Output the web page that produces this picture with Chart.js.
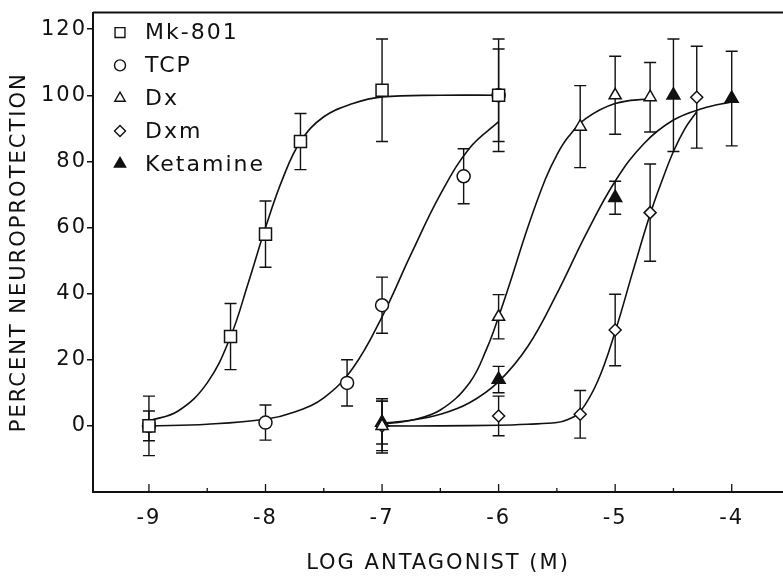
<!DOCTYPE html>
<html>
<head>
<meta charset="utf-8">
<script src="https://cdn.jsdelivr.net/npm/chart.js@4.4.0/dist/chart.umd.min.js"></script>
<style>
  html, body { margin: 0; padding: 0; background: #fff; overflow: hidden; }
</style>
</head>
<body>
<canvas id="chart" width="783" height="577"></canvas>
<script>
// measured points (log M, % neuroprotection, +/- error)
const mkX = [-9, -8.3, -8, -7.7, -7, -6];
const mkY = [0, 27, 58, 86, 101.5, 100];
const mkErr = [9, 10, 10, 8.5, 15.5, 17];

const tcpX = [-9, -8, -7.3, -7, -6.3, -6];
const tcpY = [0, 1, 13, 36.5, 75.5, 100];
const tcpErr = [4.5, 5.3, 7, 8.5, 8.3, 14];

const dxX = [-7, -6, -5.3, -5, -4.7];
const dxY = [0, 33, 90.5, 100, 99.4];
const dxErr = [8.2, 6.7, 12.4, 11.8, 10.5];

const dxmX = [-7, -6, -5.3, -5, -4.7, -4.3];
const dxmY = [0, 3, 3.5, 29, 64.5, 99.4];
const dxmErr = [7.5, 6, 7.2, 10.8, 14.7, 15.4];

const ketX = [-7, -6, -5, -4.5, -4];
const ketY = [1, 14, 69, 100, 99];
const ketErr = [6.5, 4, 5, 17, 14.3];

// fitted curves
const mkCurveX = [-9, -8.75, -8.5, -8.3, -8.15, -8, -7.85, -7.7, -7.5, -7.25, -7, -6.5, -6];
const mkCurveY = [1.5, 4.5, 13, 27, 43, 60, 75, 86, 93.5, 97.5, 99.5, 100, 100];

const tcpCurveX = [-9, -8.5, -8, -7.75, -7.5, -7.25, -7, -6.75, -6.5, -6.25, -6];
const tcpCurveY = [0, 0.5, 2, 4.2, 8.5, 17.5, 33, 52, 70, 84, 92];

const dxCurveX = [-7, -6.75, -6.5, -6.25, -6.1, -6, -5.9, -5.75, -5.6, -5.5, -5.4, -5.25, -5, -4.7];
const dxCurveY = [0.5, 1.7, 4.8, 13, 23.5, 33, 43.5, 60, 74.5, 82, 87.5, 93, 97.5, 99];

const dxmCurveX = [-7, -6.5, -6, -5.75, -5.5, -5.4, -5.3, -5.15, -5, -4.85, -4.7, -4.6, -4.5, -4.4, -4.3];
const dxmCurveY = [0, 0, 0.2, 0.5, 1, 2, 4.3, 13.5, 28.5, 46.5, 64, 74, 83, 90, 95];

const ketCurveX = [-7, -6.75, -6.5, -6.25, -6, -5.75, -5.5, -5.25, -5, -4.75, -4.5, -4.25, -4];
const ketCurveY = [0.8, 1.7, 3.5, 7, 13.4, 24, 40, 58, 74, 85.5, 92.5, 96, 98];

const seriesNames = ['Mk-801', 'TCP', 'Dx', 'Dxm', 'Ketamine'];
const xTickLabels = [-9, -8, -7, -6, -5, -4];
const yTickLabels = [0, 20, 40, 60, 80, 100, 120];

const ink = '#111';
const fam = '"DejaVu Sans", sans-serif';

function pts(xs, ys) {
    return xs.map((v, i) => ({x: v, y: ys[i]}));
}

const styles = [
    {pointStyle: 'rect', radius: 8.5, fill: '#fff', legendRadius: 7},
    {pointStyle: 'circle', radius: 6.5, fill: '#fff', legendRadius: 5.5},
    {pointStyle: 'triangle', radius: 7, fill: '#fff', legendRadius: 6},
    {pointStyle: 'rectRot', radius: 6, fill: '#fff', legendRadius: 5.5},
    {pointStyle: 'triangle', radius: 7.5, fill: ink, legendRadius: 6.5}
];
const pointData = [[mkX, mkY], [tcpX, tcpY], [dxX, dxY], [dxmX, dxmY], [ketX, ketY]];
const curveData = [[mkCurveX, mkCurveY], [tcpCurveX, tcpCurveY], [dxCurveX, dxCurveY],
                   [dxmCurveX, dxmCurveY], [ketCurveX, ketCurveY]];
const errorSets = [[mkX, mkY, mkErr], [tcpX, tcpY, tcpErr], [dxX, dxY, dxErr],
                   [dxmX, dxmY, dxmErr], [ketX, ketY, ketErr]];

let datasets = [];
curveData.forEach((c, i) => {
    datasets.push({
        label: seriesNames[i] + ' fit',
        data: pts(c[0], c[1]),
        showLine: true,
        borderColor: ink,
        borderWidth: 1.6,
        pointRadius: 0,
        tension: 0.4,
        order: 2
    });
});
pointData.forEach((p, i) => {
    datasets.push({
        label: seriesNames[i],
        data: pts(p[0], p[1]),
        showLine: false,
        pointStyle: styles[i].pointStyle,
        pointRadius: styles[i].radius,
        pointBorderWidth: 1.5,
        pointBorderColor: ink,
        pointBackgroundColor: styles[i].fill,
        order: 1
    });
});

const decor = {
    id: 'decor',
    beforeUpdate(chart) { chart.ctx.letterSpacing = '2px'; },
    beforeDraw(chart) { chart.ctx.letterSpacing = '2px'; },
    beforeDatasetsDraw(chart) {
        const ctx = chart.ctx, x = chart.scales.x, y = chart.scales.y;
        ctx.save();
        ctx.strokeStyle = ink;
        ctx.lineWidth = 1.4;
        errorSets.forEach(([xs, ys, es]) => {
            xs.forEach((v, i) => {
                const px = x.getPixelForValue(v);
                const top = y.getPixelForValue(ys[i] + es[i]);
                const bot = y.getPixelForValue(ys[i] - es[i]);
                ctx.beginPath();
                ctx.moveTo(px, top); ctx.lineTo(px, bot);
                ctx.moveTo(px - 6, top); ctx.lineTo(px + 6, top);
                ctx.moveTo(px - 6, bot); ctx.lineTo(px + 6, bot);
                ctx.stroke();
            });
        });
        ctx.restore();
    },
    afterDraw(chart) {
        const ctx = chart.ctx, area = chart.chartArea, x = chart.scales.x;
        ctx.save();
        ctx.strokeStyle = ink;
        ctx.lineWidth = 2;
        // top frame line
        ctx.beginPath();
        ctx.moveTo(area.left, area.top);
        ctx.lineTo(area.right, area.top);
        ctx.stroke();
        // inward ticks on the x axis
        ctx.lineWidth = 1.3;
        x.ticks.forEach(t => {
            const px = x.getPixelForValue(t.value);
            const len = Number.isInteger(t.value) ? 8 : 4;
            ctx.beginPath();
            ctx.moveTo(px, area.bottom);
            ctx.lineTo(px, area.bottom - len);
            ctx.stroke();
        });
        // legend
        ctx.font = '22px ' + fam;
        ctx.fillStyle = ink;
        ctx.textBaseline = 'middle';
        ctx.textAlign = 'left';
        seriesNames.forEach((name, i) => {
            const ly = area.top + 20 + i * 32.8;
            const lx = area.left + 27;
            ctx.save();
            ctx.fillStyle = styles[i].fill;
            ctx.strokeStyle = ink;
            ctx.lineWidth = 1.4;
            Chart.helpers.drawPoint(ctx, {
                pointStyle: styles[i].pointStyle,
                radius: styles[i].legendRadius,
                rotation: 0,
                borderWidth: 1.4
            }, lx, ly);
            ctx.restore();
            ctx.fillStyle = ink;
            ctx.fillText(name, area.left + 52, ly + 1);
        });
        ctx.restore();
    }
};

const tickFont = {family: fam, size: 21};

new Chart(document.getElementById('chart'), {
    type: 'scatter',
    data: {datasets: datasets},
    options: {
        responsive: false,
        animation: false,
        events: [],
        layout: {autoPadding: false, padding: {top: 12, right: 0, left: 0, bottom: 0}},
        plugins: {legend: {display: false}, tooltip: {enabled: false}},
        scales: {
            x: {
                type: 'linear',
                min: -9.48,
                max: -3.56,
                afterBuildTicks: s => {
                    let t = [];
                    xTickLabels.forEach(v => {
                        t.push({value: v});
                        if (v < -4) t.push({value: v + 0.5});
                    });
                    s.ticks = t;
                },
                afterFit: s => { s.height = 85; },
                border: {color: ink, width: 2},
                grid: {display: true, drawOnChartArea: false, drawTicks: false},
                ticks: {
                    color: ink,
                    font: tickFont,
                    padding: 14,
                    autoSkip: false,
                    maxRotation: 0,
                    callback: v => Number.isInteger(v) ? String(v) : ''
                },
                title: {
                    display: true,
                    text: 'LOG ANTAGONIST (M)',
                    color: ink,
                    font: tickFont,
                    padding: {top: 0, bottom: 1}
                }
            },
            y: {
                type: 'linear',
                min: -20,
                max: 125,
                afterBuildTicks: s => { s.ticks = yTickLabels.map(v => ({value: v})); },
                afterFit: s => { s.width = 93; },
                border: {color: ink, width: 2},
                grid: {drawOnChartArea: false, tickLength: 6, color: ink, lineWidth: 1.5},
                ticks: {
                    color: ink,
                    font: tickFont,
                    padding: 0
                },
                title: {
                    display: true,
                    text: 'PERCENT NEUROPROTECTION',
                    color: ink,
                    font: tickFont,
                    padding: {top: 7, bottom: 0}
                }
            }
        }
    },
    plugins: [decor]
});
</script>
</body>
</html>
